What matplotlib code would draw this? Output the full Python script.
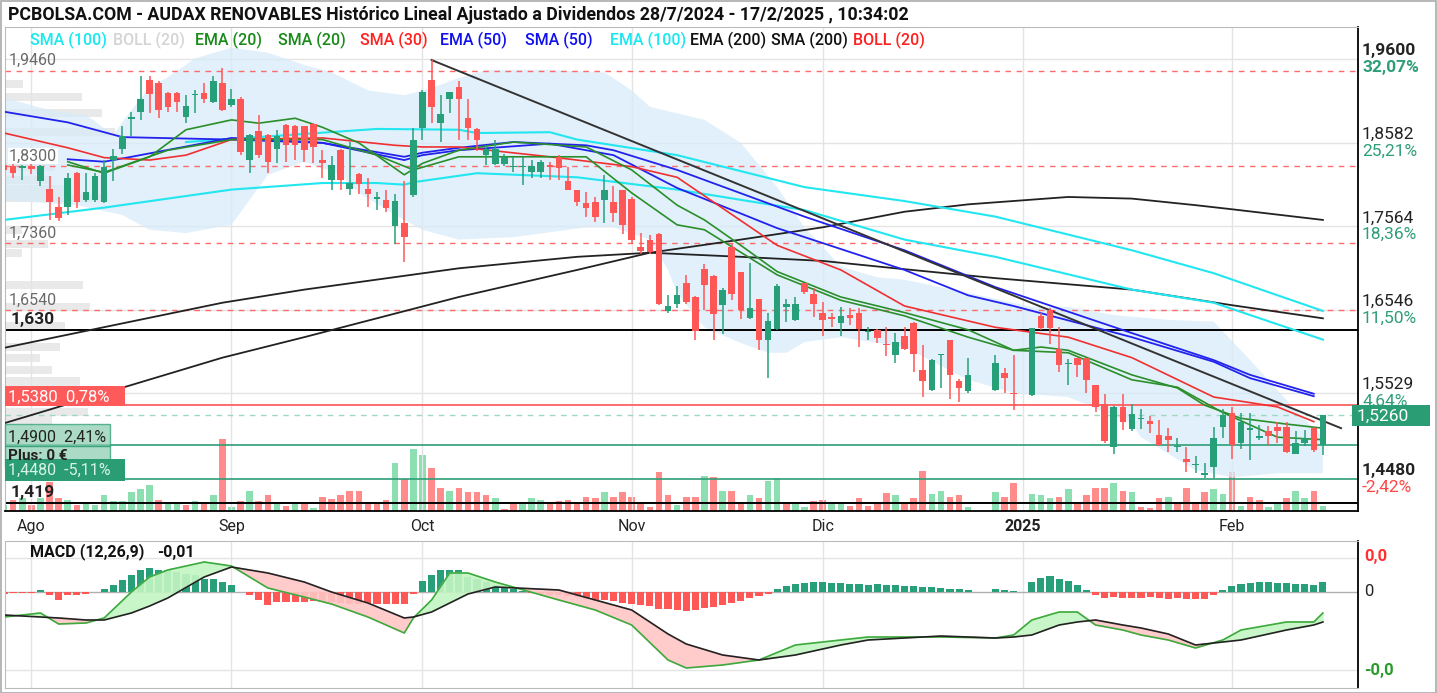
import matplotlib
matplotlib.use("Agg")
import matplotlib.pyplot as plt
import numpy as np
from matplotlib.patches import Rectangle

plt.rcParams['font.family'] = ['Roboto', 'DejaVu Sans']

W, H = 1437, 693

# ---- daily candles (weekday index, holidays = None) ----
opens = [1.831, 1.830, 1.827, 1.830, 1.811, 1.802, 1.780, 1.780, 1.821, 1.788,
         1.788, 1.786, 1.837, 1.851, 1.887, 1.896, 1.935, 1.931, 1.919, 1.919,
         1.890, 1.916, 1.919, 1.908, 1.931, 1.904, 1.912, 1.837, 1.872, 1.868,
         1.851, 1.880, 1.879, 1.879, 1.881, 1.837, 1.813, 1.849, 1.802, 1.820,
         1.802, 1.790, 1.788, 1.756, 1.760, 1.794, 1.876, 1.935, 1.882, 1.911,
         1.926, 1.888, 1.875, 1.843, 1.832, 1.832, 1.829, 1.828, 1.823, 1.823,
         1.831, 1.841, 1.811, 1.800, 1.785, 1.786, 1.788, 1.786, 1.800, 1.790,
         1.731, 1.739, 1.747, 1.653, 1.662, 1.687, 1.670, 1.704, 1.696, 1.660,
         1.731, 1.700, 1.644, 1.667, 1.618, 1.631, 1.658, 1.642, 1.687, 1.674,
         1.650, 1.645, 1.638, 1.648, 1.650, 1.627, 1.630, 1.612, 1.599, 1.622,
         1.638, 1.581, 1.557, 1.599, 1.618, 1.568, 1.555, None, None, 1.557,
         1.577, 1.553, None, 1.550, 1.647, 1.654, 1.607, 1.588, 1.595, 1.595,
         1.563, 1.540, 1.487, 1.536, 1.509, 1.521, 1.519, 1.502, 1.500, 1.487,
         1.473, 1.465, 1.453, 1.463, 1.512, 1.528, 1.492, 1.508, 1.498, 1.507,
         1.511, 1.511, 1.479, 1.492, 1.510, 1.489]
highs = [1.833, 1.832, 1.831, 1.832, 1.831, 1.817, 1.792, 1.821, 1.822, 1.821,
         1.821, 1.837, 1.851, 1.878, 1.896, 1.939, 1.939, 1.933, 1.920, 1.920,
         1.916, 1.922, 1.931, 1.939, 1.949, 1.924, 1.914, 1.869, 1.892, 1.869,
         1.874, 1.881, 1.880, 1.879, 1.882, 1.849, 1.842, 1.850, 1.859, 1.821,
         1.815, 1.798, 1.800, 1.796, 1.811, 1.876, 1.922, 1.959, 1.916, 1.920,
         1.934, 1.911, 1.876, 1.855, 1.861, 1.845, 1.841, 1.841, 1.837, 1.837,
         1.835, 1.843, 1.829, 1.801, 1.798, 1.792, 1.819, 1.805, 1.801, 1.792,
         1.748, 1.746, 1.748, 1.672, 1.683, 1.697, 1.671, 1.710, 1.697, 1.681,
         1.735, 1.701, 1.711, 1.668, 1.650, 1.686, 1.668, 1.670, 1.687, 1.681,
         1.664, 1.650, 1.658, 1.656, 1.656, 1.634, 1.631, 1.634, 1.626, 1.634,
         1.640, 1.611, 1.594, 1.601, 1.618, 1.570, 1.595, None, None, 1.599,
         1.583, 1.599, None, 1.632, 1.650, 1.656, 1.634, 1.594, 1.596, 1.596,
         1.563, 1.552, 1.537, 1.552, 1.540, 1.533, 1.525, 1.520, 1.510, 1.498,
         1.487, 1.476, 1.467, 1.512, 1.534, 1.536, 1.528, 1.529, 1.514, 1.513,
         1.518, 1.518, 1.506, 1.508, 1.511, 1.526]
lows = [1.821, 1.815, 1.813, 1.820, 1.805, 1.764, 1.763, 1.770, 1.778, 1.786,
        1.786, 1.785, 1.811, 1.845, 1.866, 1.886, 1.894, 1.888, 1.896, 1.896,
        1.882, 1.894, 1.906, 1.907, 1.897, 1.902, 1.843, 1.821, 1.840, 1.821,
        1.833, 1.835, 1.837, 1.835, 1.833, 1.815, 1.800, 1.800, 1.794, 1.796,
        1.780, 1.776, 1.774, 1.735, 1.713, 1.792, 1.861, 1.882, 1.859, 1.894,
        1.861, 1.861, 1.848, 1.831, 1.831, 1.830, 1.823, 1.807, 1.815, 1.815,
        1.813, 1.813, 1.800, 1.781, 1.768, 1.761, 1.760, 1.762, 1.747, 1.735,
        1.723, 1.722, 1.660, 1.651, 1.656, 1.662, 1.618, 1.654, 1.618, 1.625,
        1.666, 1.643, 1.643, 1.605, 1.571, 1.630, 1.640, 1.641, 1.674, 1.646,
        1.622, 1.634, 1.622, 1.636, 1.609, 1.617, 1.614, 1.598, 1.589, 1.605,
        1.579, 1.548, 1.555, 1.559, 1.546, 1.542, 1.553, None, None, 1.555,
        1.553, 1.532, None, 1.549, 1.630, 1.613, 1.579, 1.563, 1.573, 1.553,
        1.530, 1.492, 1.479, 1.508, 1.507, 1.509, 1.504, 1.488, 1.481, 1.481,
        1.457, 1.455, 1.449, 1.449, 1.498, 1.473, 1.485, 1.471, 1.496, 1.489,
        1.492, 1.480, 1.479, 1.488, 1.481, 1.477]
closes = [1.825, 1.821, 1.830, 1.826, 1.830, 1.786, 1.766, 1.815, 1.786, 1.798,
          1.817, 1.828, 1.842, 1.866, 1.889, 1.912, 1.918, 1.898, 1.902, 1.908,
          1.903, 1.918, 1.911, 1.934, 1.898, 1.911, 1.847, 1.868, 1.843, 1.835,
          1.866, 1.855, 1.855, 1.849, 1.853, 1.833, 1.831, 1.813, 1.809, 1.808,
          1.796, 1.792, 1.778, 1.787, 1.743, 1.861, 1.920, 1.902, 1.893, 1.920,
          1.912, 1.876, 1.861, 1.850, 1.850, 1.841, 1.830, 1.830, 1.830, 1.835,
          1.829, 1.827, 1.800, 1.786, 1.778, 1.768, 1.800, 1.772, 1.758, 1.739,
          1.726, 1.725, 1.662, 1.659, 1.672, 1.664, 1.628, 1.685, 1.649, 1.679,
          1.674, 1.654, 1.657, 1.618, 1.641, 1.683, 1.661, 1.661, 1.676, 1.662,
          1.642, 1.643, 1.647, 1.644, 1.631, 1.629, 1.620, 1.611, 1.615, 1.607,
          1.601, 1.567, 1.593, 1.601, 1.575, 1.559, 1.575, None, None, 1.589,
          1.571, 1.552, None, 1.632, 1.632, 1.632, 1.587, 1.590, 1.587, 1.569,
          1.536, 1.494, 1.536, 1.518, 1.527, 1.522, 1.515, 1.490, 1.496, 1.488,
          1.469, 1.466, 1.455, 1.498, 1.526, 1.490, 1.518, 1.510, 1.500, 1.500,
          1.507, 1.481, 1.492, 1.498, 1.483, 1.526]
volume = [6, 11, 13, 6, 13, 29, 13, 11, 6, 7, 6, 16, 10, 10, 19, 22, 26, 11, 8, 8,
          6, 10, 9, 16, 72, 4, 10, 20, 10, 16, 9, 5, 9, 8, 3, 14, 12, 16, 20, 20,
          7, 7, 11, 48, 32, 62, 56, 43, 23, 20, 23, 19, 19, 16, 13, 2, 7, 7, 13, 11,
          9, 10, 11, 9, 14, 13, 19, 14, 19, 14, 9, 4, 39, 16, 6, 14, 14, 35, 34, 20,
          20, 9, 16, 13, 30, 33, 9, 7, 4, 10, 11, 7, 9, 5, 13, 5, 7, 18, 16, 9,
          13, 40, 17, 20, 14, 16, 4, None, None, 19, 14, 28, None, 17, 16, 13, 14, 22, 7, 16,
          23, 23, 28, 20, 19, 4, 3, 13, 14, 7, 23, 9, 19, 22, 17, 39, 5, 14, 11, 4,
          8, 13, 20, 13, 20, 5]

# ---- moving averages / bands (index, price) ----
ema200_i = [0, 24, 33, 50, 63, 71, 81, 90, 98, 109, 124, 135, 145]
ema200_p = [1.608, 1.663, 1.679, 1.705, 1.719, 1.724, 1.719, 1.714, 1.705, 1.693, 1.679, 1.660, 1.644]
sma200_i = [0, 24, 33, 50, 63, 71, 81, 90, 99, 106, 117, 124, 131, 135, 145]
sma200_p = [1.516, 1.596, 1.621, 1.670, 1.703, 1.724, 1.740, 1.755, 1.774, 1.783, 1.792, 1.790, 1.782, 1.777, 1.764]
ema100_i = [0, 11, 25, 35, 41, 44, 45, 52, 63, 74, 88, 99, 109, 124, 133, 145]
ema100_p = [1.764, 1.779, 1.801, 1.809, 1.809, 1.807, 1.810, 1.821, 1.816, 1.801, 1.776, 1.740, 1.719, 1.679, 1.663, 1.618]
sma100_i = [20, 24, 41, 50, 52, 60, 63, 74, 88, 99, 109, 124, 133, 145]
sma100_p = [1.859, 1.862, 1.875, 1.874, 1.870, 1.871, 1.862, 1.843, 1.804, 1.787, 1.768, 1.727, 1.699, 1.653]
ema50_i = [0, 7, 13, 25, 35, 44, 46, 50, 56, 64, 67, 74, 88, 99, 109, 124, 133, 137, 144]
ema50_p = [1.896, 1.883, 1.865, 1.862, 1.858, 1.841, 1.846, 1.852, 1.859, 1.855, 1.849, 1.825, 1.768, 1.727, 1.682, 1.626, 1.593, 1.575, 1.552]
sma50_i = [7, 11, 14, 25, 35, 44, 46, 50, 60, 67, 74, 85, 99, 106, 111, 124, 133, 137, 144]
sma50_p = [1.838, 1.835, 1.841, 1.864, 1.858, 1.837, 1.843, 1.849, 1.857, 1.843, 1.803, 1.754, 1.703, 1.672, 1.659, 1.621, 1.591, 1.571, 1.549]
sma30_i = [0, 7, 11, 16, 20, 25, 35, 43, 46, 50, 60, 69, 74, 85, 92, 99, 109, 117, 124, 133, 140, 144]
sma30_p = [1.870, 1.852, 1.840, 1.837, 1.843, 1.862, 1.864, 1.855, 1.853, 1.853, 1.841, 1.829, 1.816, 1.733, 1.703, 1.659, 1.633, 1.621, 1.596, 1.548, 1.536, 1.518]
ema20_i = [7, 11, 16, 20, 25, 28, 32, 35, 39, 44, 46, 50, 56, 64, 69, 74, 77, 81, 85, 92, 99, 106,
           111, 114, 117, 124, 129, 132, 136, 141, 145]
ema20_p = [1.835, 1.821, 1.841, 1.874, 1.886, 1.882, 1.888, 1.877, 1.858, 1.819, 1.833, 1.849, 1.859,
           1.853, 1.825, 1.782, 1.764, 1.733, 1.701, 1.670, 1.651, 1.630, 1.605, 1.609, 1.605, 1.575,
           1.559, 1.538, 1.522, 1.515, 1.510]
sma20_i = [7, 11, 18, 25, 28, 35, 41, 45, 50, 56, 64, 69, 74, 77, 85, 92, 99, 106, 111, 117, 124,
           129, 134, 140, 145]
sma20_p = [1.831, 1.822, 1.849, 1.862, 1.862, 1.862, 1.843, 1.825, 1.841, 1.841, 1.841, 1.797, 1.758,
           1.752, 1.697, 1.666, 1.647, 1.621, 1.605, 1.602, 1.569, 1.560, 1.529, 1.499, 1.496]
boll_up_i = [0, 5, 9, 12, 14, 16, 18, 21, 25, 29, 33, 36, 40, 44, 47, 50, 53, 60, 66, 69, 71, 74,
             77, 81, 85, 88, 92, 96, 99, 106, 113, 117, 122, 128, 133, 137, 142, 145]
boll_up_p = [1.913, 1.898, 1.892, 1.868, 1.898, 1.925, 1.938, 1.961, 1.974, 1.968, 1.953, 1.944,
             1.922, 1.916, 1.925, 1.937, 1.947, 1.947, 1.944, 1.922, 1.902, 1.894, 1.886, 1.858,
             1.804, 1.755, 1.707, 1.694, 1.691, 1.675, 1.658, 1.658, 1.648, 1.642, 1.640, 1.593,
             1.532, 1.499]
boll_lo_i = [0, 8, 13, 16, 20, 25, 29, 33, 37, 39, 43, 46, 50, 56, 64, 67, 71, 73, 74, 77, 81, 84,
             86, 88, 92, 99, 106, 111, 117, 124, 125, 131, 135, 140, 145]
boll_lo_p = [1.788, 1.782, 1.770, 1.752, 1.748, 1.758, 1.819, 1.835, 1.819, 1.797, 1.770, 1.752,
             1.740, 1.743, 1.755, 1.755, 1.740, 1.703, 1.675, 1.633, 1.614, 1.602, 1.602, 1.615,
             1.621, 1.609, 1.569, 1.553, 1.548, 1.516, 1.499, 1.459, 1.450, 1.455, 1.455]
trend_i = [47, 147]
trend_p = [1.959, 1.510]

# ---- volume profile (price level, relative volume) ----
prof_price = [1.930, 1.914, 1.894, 1.871, 1.829, 1.813, 1.801, 1.791, 1.752, 1.735, 1.724,
              1.685, 1.658, 1.635, 1.609, 1.596, 1.581, 1.567, 1.530, 1.520]
prof_vol = [18, 77, 97, 110, 50, 47, 63, 103, 17, 43, 17, 78, 85, 60, 55, 35, 47, 75, 83, 47]

# ---- MACD (12,26,9) ----
macd_i = [0, 4, 6, 9, 11, 14, 16, 18, 22, 25, 29, 33, 36, 40, 44, 45, 47, 49, 51, 54, 61, 65, 69,
          73, 75, 79, 83, 87, 92, 95, 103, 109, 111, 113, 116, 118, 120, 123, 125, 128, 131, 134,
          136, 141, 144, 145]
macd_line = [-0.0125, -0.0105, -0.016, -0.0155, -0.013, 0.0, 0.0075, 0.011, 0.015, 0.013, 0.002,
             -0.0025, -0.006, -0.0125, -0.0205, -0.013, -0.004, 0.0095, 0.0095, 0.005, -0.004,
             -0.009, -0.0165, -0.034, -0.038, -0.0365, -0.034, -0.0265, -0.024, -0.0225, -0.0225,
             -0.023, -0.0215, -0.014, -0.010, -0.010, -0.0165, -0.019, -0.0215, -0.024, -0.028,
             -0.024, -0.019, -0.015, -0.015, -0.0105]
macd_signal = [-0.0115, -0.0125, -0.013, -0.014, -0.014, -0.0105, -0.007, -0.003, 0.0075, 0.0125,
               0.0095, 0.005, 0.0, -0.0055, -0.013, -0.0125, -0.010, -0.0055, -0.001, 0.0025,
               0.001, -0.004, -0.009, -0.021, -0.026, -0.0315, -0.034, -0.0315, -0.0265, -0.024,
               -0.022, -0.023, -0.0225, -0.0215, -0.0165, -0.015, -0.014, -0.0165, -0.018, -0.021,
               -0.0265, -0.025, -0.024, -0.019, -0.0165, -0.015]
macd_hist = [-0.0012, -0.0005, -0.0004, -0.0005, 0.0012, -0.0017, -0.0038, -0.0017, -0.0017, -0.0012,
             0.0, 0.0013, 0.0033, 0.0058, 0.0083, 0.0108, 0.0122, 0.0112, 0.0112, 0.010,
             0.0088, 0.0083, 0.0067, 0.0067, 0.005, 0.0033, 0.0, -0.0017, -0.0042, -0.0067,
             -0.005, -0.005, -0.005, -0.005, -0.0045, -0.005, -0.005, -0.0055, -0.0058, -0.0058,
             -0.0055, -0.0062, -0.0058, -0.0062, -0.0058, -0.0012, 0.0055, 0.0083, 0.0112, 0.0112,
             0.0108, 0.0075, 0.0067, 0.005, 0.0033, 0.0025, 0.0015, 0.0005, -0.0005, -0.001,
             -0.0015, -0.0015, -0.002, -0.0025, -0.0035, -0.004, -0.004, -0.0045, -0.0055, -0.006,
             -0.0065, -0.007, -0.0085, -0.0085, -0.009, -0.0095, -0.009, -0.008, -0.0075, -0.0065,
             -0.0055, -0.0045, -0.003, -0.002, -0.001, 0.0015, 0.003, 0.004, 0.0045, 0.005,
             0.005, 0.0045, 0.0045, 0.004, 0.004, 0.0035, 0.004, 0.0035, 0.0035, 0.003,
             0.003, 0.0025, 0.0025, 0.002, 0.0015, 0.0015, 0.001, None, None, 0.0015,
             0.001, 0.0005, None, 0.005, 0.007, 0.008, 0.0065, 0.0055, 0.0035, 0.001,
             -0.0015, -0.003, -0.0025, -0.003, -0.003, -0.003, -0.0025, -0.003, -0.0035, -0.003,
             -0.0035, -0.0035, -0.0035, -0.0015, 0.001, 0.003, 0.004, 0.0045, 0.005, 0.005,
             0.0045, 0.0045, 0.004, 0.004, 0.0035, 0.005]

month_idx = [3, 25, 46, 69, 90, 112, 135]
month_lbl = ['Ago', 'Sep', 'Oct', 'Nov', 'Dic', '2025', 'Feb']
grid_levels = [1.9600, 1.8582, 1.7564, 1.6546, 1.5529]
grid_pct = ['32,07%', '25,21%', '18,36%', '11,50%', '4,64%']
fib_levels = [1.946, 1.830, 1.736, 1.654]
fib_lbl = ['1,9460', '1,8300', '1,7360', '1,6540']

GREEN = '#27a07a'
RED = '#ff5656'

o = np.array(opens, dtype=float)
hi = np.array(highs, dtype=float)
lo = np.array(lows, dtype=float)
c = np.array(closes, dtype=float)
vol = np.array(volume, dtype=float)
idx = np.arange(len(c))

fig = plt.figure(figsize=(W / 100, H / 100), dpi=100)
fig.patch.set_facecolor('white')

ax = fig.add_axes([5 / W, 1 - 511 / H, 1353 / W, 484 / H])
ax_p = ax.twiny()
ax_v = ax.twinx()
ax_p.set_zorder(0)
ax_v.set_zorder(1)
ax.set_zorder(2)
ax.patch.set_visible(False)
ax_v.patch.set_visible(False)

XL = (0.1, 148.86)
ax.set_xlim(*XL)
ax.set_ylim(1.4090, 1.9993)

# volume profile
ax_p.barh(prof_price, prof_vol, height=0.010, color='#e9e9e9', zorder=1)
ax_p.set_xlim(0, 1353)
ax_p.axis('off')

# volume bars (colour by close-to-close)
prev = np.r_[np.nan, c[:-1]]
for k in range(1, len(prev)):
    if np.isnan(prev[k]):
        prev[k] = prev[k - 1]
vcol = ['#7fdca8' if (np.isnan(p_) or cc >= p_) else '#ff7f7f' for cc, p_ in zip(c, prev)]
ax_v.bar(idx, vol, width=0.72, color=vcol, alpha=0.9)
ax_v.set_ylim(0, 484)
ax_v.set_xlim(*XL)
ax_v.axis('off')

# grid
for g in grid_levels:
    ax.axhline(g, color='#e4e4e4', lw=1, zorder=0)
for m in month_idx:
    ax.axvline(m, color='#e4e4e4', lw=1, zorder=0)

# bollinger band fill
ax.fill(np.r_[boll_up_i, boll_lo_i[::-1]], np.r_[boll_up_p, boll_lo_p[::-1]],
        color='#d8ebf9', alpha=0.75, lw=0, zorder=1)

# horizontal levels
for lv in fib_levels:
    ax.axhline(lv, color='#ff6a6a', lw=1, ls=(0, (4, 4)), zorder=2)
ax.axhline(1.630, color='black', lw=1.4, zorder=2)
ax.axhline(1.419, color='black', lw=1.4, zorder=2)
ax.axhline(1.538, color='#ff6060', lw=1.3, zorder=2)
ax.axhline(1.526, color='#9ed8bf', lw=1, ls=(0, (4, 4)), zorder=2)
ax.axhline(1.490, color='#2e9e78', lw=1.2, zorder=2)
ax.axhline(1.448, color='#2e9e78', lw=1.2, zorder=2)

# moving averages
ax.plot(ema200_i, ema200_p, color='#222222', lw=1.3, zorder=3)
ax.plot(sma200_i, sma200_p, color='#222222', lw=1.3, zorder=3)
ax.plot(ema100_i, ema100_p, color='#22e6f0', lw=1.5, zorder=3)
ax.plot(sma100_i, sma100_p, color='#22e6f0', lw=1.5, zorder=3)
ax.plot(ema50_i, ema50_p, color='#2222ee', lw=1.3, zorder=3)
ax.plot(sma50_i, sma50_p, color='#2222ee', lw=1.3, zorder=3)
ax.plot(sma30_i, sma30_p, color='#f03030', lw=1.2, zorder=3)
ax.plot(ema20_i, ema20_p, color='#2a8f2a', lw=1.2, zorder=3)
ax.plot(sma20_i, sma20_p, color='#2a8f2a', lw=1.2, zorder=3)
ax.plot(trend_i, trend_p, color='#333333', lw=1.4, zorder=3)

# candles
up = c >= o
ccol = np.where(up, GREEN, RED)
ok = ~np.isnan(c)
ax.vlines(idx[ok], lo[ok], hi[ok], colors=ccol[ok], lw=1.1, zorder=4)
body = np.maximum(np.abs(c - o), 0.0013)
ax.bar(idx[ok], body[ok], bottom=np.minimum(o, c)[ok], width=0.72, color=ccol[ok], zorder=5)

# axes cosmetics
for s in ['top', 'left']:
    ax.spines[s].set_color('#bbbbbb')
ax.spines['right'].set_color('black')
ax.spines['right'].set_linewidth(1.3)
ax.spines['bottom'].set_color('black')
ax.spines['bottom'].set_linewidth(1.3)
ax.set_yticks([])
ax.set_xticks(month_idx)
ax.set_xticklabels(month_lbl)
ax.tick_params(axis='x', length=0, pad=6, labelsize=11.5, labelcolor='#222222')
ax.get_xticklabels()[5].set_fontweight('bold')

ytr = ax.get_yaxis_transform()
# left level labels
for lv, lb in zip(fib_levels, fib_lbl):
    ax.text(0.003, lv + 0.003, lb, transform=ytr, va='bottom', ha='left', fontsize=11.5,
            color='#6a6a6a', zorder=6,
            bbox=dict(facecolor='white', edgecolor='none', pad=0.5) if lb == '1,8300' else None)
ax.text(0.004, 1.630 + 0.003, '1,630', transform=ytr, va='bottom', fontsize=12.5,
        fontweight='bold', color='#222222', zorder=6)
ax.text(0.004, 1.419 + 0.003, '1,419', transform=ytr, va='bottom', fontsize=12.5,
        fontweight='bold', color='#222222', zorder=6)

# right axis labels
for k, (g, pc) in enumerate(zip(grid_levels, grid_pct)):
    fw = 'bold' if k == 0 else 'normal'
    ax.text(1.003, g + 0.001, ('%.4f' % g).replace('.', ','),
            transform=ytr, va='bottom', ha='left', fontsize=12.5, fontweight=fw,
            color='#222222', clip_on=False)
    ax.text(1.003, g - 0.001, pc, transform=ytr, va='top', ha='left', fontsize=12.5,
            fontweight=fw, color='#2e9e78', clip_on=False)
ax.text(1.003, 1.448 + 0.001, '1,4480', transform=ytr, va='bottom', ha='left', fontsize=12.5,
        fontweight='bold', color='#222222', clip_on=False)
ax.text(1.003, 1.448 - 0.001, '-2,42%', transform=ytr, va='top', ha='left', fontsize=12.5,
        color='#ff4545', clip_on=False)


def frect(x0, y0, x1, y1, fc, ec='none', alpha=1.0, z=10):
    fig.patches.append(Rectangle((x0 / W, 1 - y1 / H), (x1 - x0) / W, (y1 - y0) / H,
                                 transform=fig.transFigure, facecolor=fc, edgecolor=ec,
                                 alpha=alpha, zorder=z, lw=1))


def ftext(x, y, s, **kw):
    fig.text(x / W, 1 - y / H, s, va='center', ha='left', zorder=20, **kw)


# price boxes
frect(1352, 405, 1430, 426, '#2a9d74')
ftext(1357, 416, '1,5260', fontsize=12.5, color='white')
frect(5, 386, 125, 406, '#ff5a5a')
ftext(8, 397, '1,5380  0,78%', fontsize=12, color='white')
frect(5, 424, 110, 446, '#8fd0b4', ec='#2e9e78', alpha=0.75)
ftext(8, 437, '1,4900  2,41%', fontsize=11.5, color='#222222')
frect(5, 446, 110, 467, '#8fd0b4', ec='#2e9e78', alpha=0.75)
frect(5, 459, 125, 481, '#2a9d74', z=11)
ftext(8, 470, '1,4480  -5,11%', fontsize=11.5, color='#d8f3e8')
ftext(8, 456, 'Plus: 0 €', fontsize=11, fontweight='bold', color='#222222')

# title and legend
ftext(8, 15, 'PCBOLSA.COM - AUDAX RENOVABLES Histórico Lineal Ajustado a Dividendos '
      '28/7/2024 - 17/2/2025 , 10:34:02', fontsize=12.8, fontweight='bold', color='#111111')
legend = [('SMA (100)', '#18e8f0', 30), ('BOLL (20)', '#d4d4d4', 113), ('EMA (20)', '#1a8a1a', 195),
          ('SMA (20)', '#1a8a1a', 278), ('SMA (30)', '#ff2020', 360), ('EMA (50)', '#1010ee', 440),
          ('SMA (50)', '#1010ee', 525), ('EMA (100)', '#18e8f0', 610), ('EMA (200)', '#111111', 690),
          ('SMA (200)', '#111111', 771), ('BOLL (20)', '#ff2020', 853)]
for lb, col, xx in legend:
    ftext(xx, 40, lb, fontsize=11.5, fontweight='medium', color=col)

# MACD panel
axm = fig.add_axes([5 / W, 1 - 688 / H, 1353 / W, 147 / H])
axm.set_xlim(*XL)
axm.set_ylim(-0.048, 0.0255)
for m in month_idx:
    axm.axvline(m, color='#e4e4e4', lw=1, zorder=0)
for g in [0.017, -0.039]:
    axm.axhline(g, color='#e4e4e4', lw=1, zorder=0)
axm.axhline(0, color='#b0b0b0', lw=1, zorder=1)
hist = np.array(macd_hist, dtype=float)
hcol = np.where(hist >= 0, GREEN, RED)
axm.bar(idx, hist, width=0.78, color=hcol, zorder=2)
mi = np.array(macd_i)
ml = np.array(macd_line)
ms = np.array(macd_signal)
axm.fill_between(mi, ml, ms, where=ml >= ms, interpolate=True, color='#c4f5c4', alpha=0.9, zorder=3)
axm.fill_between(mi, ml, ms, where=ml < ms, interpolate=True, color='#ffc6c6', alpha=0.9, zorder=3)
axm.plot(mi, ml, color='#3daa3d', lw=1.2, zorder=4)
axm.plot(mi, ms, color='#222222', lw=1.2, zorder=4)
axm.set_xticks([])
axm.set_yticks([])
for s in ['top', 'left', 'bottom']:
    axm.spines[s].set_color('#bbbbbb')
axm.spines['right'].set_color('black')
axm.spines['right'].set_linewidth(1.3)

ftext(30, 552, 'MACD (12,26,9)', fontsize=11.5, fontweight='bold', color='#111111')
ftext(157, 552, '-0,01', fontsize=11.5, fontweight='bold', color='#111111')
ftext(1364, 557, '0,0', fontsize=12, fontweight='bold', color='#ff3030')
ftext(1364, 592, '0', fontsize=12, color='#222222')
ftext(1364, 670, '-0,0', fontsize=12, fontweight='bold', color='#2a9a2a')

# outer frame
fig.patches.append(Rectangle((0.5 / W, 0.5 / H), (W - 1.5) / W, (H - 1.5) / H,
                             transform=fig.transFigure, facecolor='none',
                             edgecolor='#aaaaaa', lw=1.2, zorder=30))

fig.savefig('out.png', dpi=100)
